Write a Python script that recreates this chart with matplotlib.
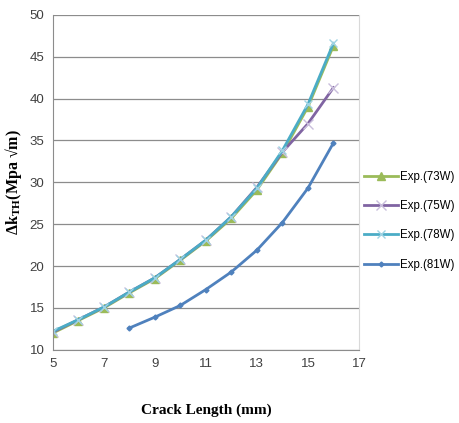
import matplotlib.pyplot as plt

crack_73 = [5, 6, 7, 8, 9, 10, 11, 12, 13, 14, 15, 16]
k_73 = [12.0, 13.5, 15.0, 16.8, 18.5, 20.7, 23.0, 25.7, 29.1, 33.5, 39.0, 46.3]

crack_75 = [5, 6, 7, 8, 9, 10, 11, 12, 13, 14, 15, 16]
k_75 = [12.1, 13.6, 15.1, 16.9, 18.6, 20.8, 23.1, 25.9, 29.4, 33.6, 37.0, 41.3]

crack_78 = [5, 6, 7, 8, 9, 10, 11, 12, 13, 14, 15, 16]
k_78 = [12.2, 13.6, 15.1, 16.9, 18.6, 20.8, 23.1, 25.9, 29.3, 33.8, 39.3, 46.6]

crack_81 = [8, 9, 10, 11, 12, 13, 14, 15, 16]
k_81 = [12.6, 13.9, 15.3, 17.2, 19.3, 21.9, 25.2, 29.3, 34.7]

x_ticks = [5, 7, 9, 11, 13, 15, 17]
y_ticks = [10, 15, 20, 25, 30, 35, 40, 45, 50]

tick_font = ['Liberation Sans Narrow', 'Liberation Sans', 'DejaVu Sans']
label_font = ['Liberation Serif', 'DejaVu Serif']

fig = plt.figure(figsize=(4.59, 4.23), dpi=100)
ax = fig.add_axes([0.115, 0.173, 0.667, 0.792])

ax.plot(crack_73, k_73, color='#9BBB59', lw=2, marker='^', ms=6, label='Exp.(73W)')
ax.plot(crack_75, k_75, color='#8064A2', lw=2, marker='x', ms=7, mec='#C9BEDC', label='Exp.(75W)')
ax.plot(crack_78, k_78, color='#4BACC6', lw=2, marker='x', ms=6, mec='#9FD3E3', label='Exp.(78W)')
ax.plot(crack_81, k_81, color='#4F81BD', lw=2, marker='D', ms=2.5, label='Exp.(81W)')

ax.set_xlim(5, 17)
ax.set_ylim(10, 50)
ax.set_xticks(x_ticks)
ax.set_yticks(y_ticks)
for lab in ax.get_xticklabels() + ax.get_yticklabels():
    lab.set_family(tick_font)
    lab.set_fontsize(9.5)
    lab.set_color('#404040')
ax.tick_params(length=0, pad=6)
ax.grid(axis='y', color='#8C8C8C', lw=0.9)
ax.set_axisbelow(True)
ax.spines['top'].set_visible(False)
ax.spines['right'].set_color('#D9D9D9')
ax.spines['left'].set_color('#8C8C8C')
ax.spines['bottom'].set_color('#8C8C8C')

ax.set_xlabel('Crack Length (mm)', family=label_font, fontweight='bold', fontsize=11, labelpad=24)
ax.set_ylabel('Δk$_{\\mathregular{TH}}$(Mpa √m)', family=label_font, fontweight='bold', fontsize=11.5, labelpad=4)

handles, labels = ax.get_legend_handles_labels()
leg = fig.legend(handles, labels, loc='center left', bbox_to_anchor=(0.782, 0.478),
                 frameon=False, handlelength=3, labelspacing=1.5, handletextpad=0.2,
                 borderaxespad=0, prop={'family': tick_font, 'size': 8.3})

plt.savefig('out.png', dpi=100)
